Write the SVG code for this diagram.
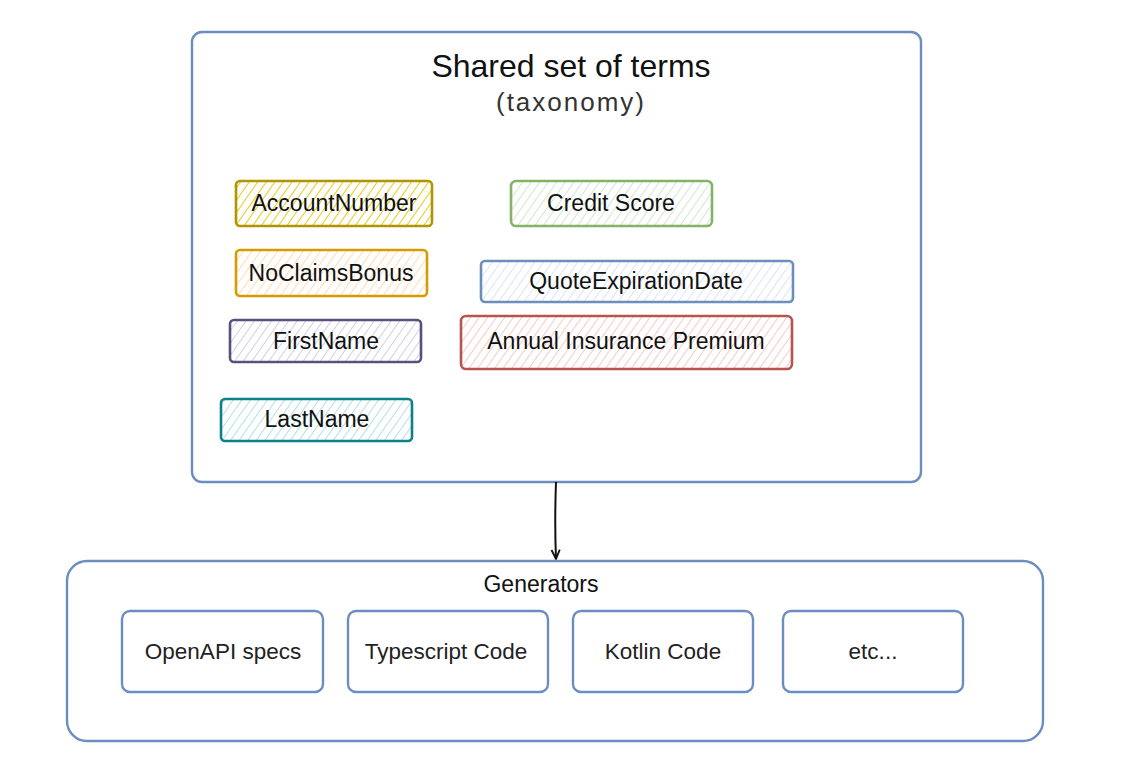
<svg xmlns="http://www.w3.org/2000/svg" width="1133" height="762" viewBox="0 0 1133 762">
<defs>
<style>
text{font-family:"Liberation Sans","DejaVu Sans",sans-serif;fill:#111;text-anchor:middle;dominant-baseline:central}
.lbl{font-size:23px}
.gen{font-size:22.5px;fill:#222}
.blue{fill:none;stroke:#6c8ebf;stroke-width:2.4}
.term{stroke-width:2.6}
</style>
<pattern id="hY" width="7" height="7" patternUnits="userSpaceOnUse" patternTransform="rotate(35)"><line x1="0" y1="0" x2="0" y2="7" stroke="#e3c800" stroke-width="1.8"/></pattern>
<pattern id="hO" width="7" height="7" patternUnits="userSpaceOnUse" patternTransform="rotate(35)"><line x1="0" y1="0" x2="0" y2="7" stroke="#ffd6a8" stroke-width="1.7"/></pattern>
<pattern id="hP" width="7" height="7" patternUnits="userSpaceOnUse" patternTransform="rotate(35)"><line x1="0" y1="0" x2="0" y2="7" stroke="#cbc7e0" stroke-width="1.7"/></pattern>
<pattern id="hT" width="7" height="7" patternUnits="userSpaceOnUse" patternTransform="rotate(35)"><line x1="0" y1="0" x2="0" y2="7" stroke="#a4dce0" stroke-width="1.7"/></pattern>
<pattern id="hG" width="7" height="7" patternUnits="userSpaceOnUse" patternTransform="rotate(35)"><line x1="0" y1="0" x2="0" y2="7" stroke="#c9e4c3" stroke-width="1.7"/></pattern>
<pattern id="hB" width="7" height="7" patternUnits="userSpaceOnUse" patternTransform="rotate(35)"><line x1="0" y1="0" x2="0" y2="7" stroke="#d0e1f7" stroke-width="1.7"/></pattern>
<pattern id="hR" width="7" height="7" patternUnits="userSpaceOnUse" patternTransform="rotate(35)"><line x1="0" y1="0" x2="0" y2="7" stroke="#f5c2be" stroke-width="1.7"/></pattern>
<marker id="arr" viewBox="0 0 12 12" refX="11" refY="6" markerWidth="11" markerHeight="11" orient="auto" markerUnits="userSpaceOnUse"><path d="M1,1.5 L11,6 L1,10.5" fill="none" stroke="#111" stroke-width="2"/></marker>
</defs>
<rect width="1133" height="762" fill="#fff"/>

<g id="taxonomy">
<rect class="blue" x="192" y="32" width="729" height="450" rx="10"/>
<text x="571" y="66" style="font-size:32px">Shared set of terms</text>
<text x="571" y="102" style="font-size:26px;fill:#333;letter-spacing:2px">(taxonomy)</text>
</g>

<g id="account-number">
<rect class="term" x="236" y="181" width="196" height="45" rx="4" fill="url(#hY)" stroke="#b09500"/>
<text class="lbl" x="334" y="203">AccountNumber</text>
</g>
<g id="no-claims-bonus">
<rect class="term" x="236" y="250" width="191" height="46" rx="4" fill="url(#hO)" stroke="#d79b00"/>
<text class="lbl" x="331" y="273">NoClaimsBonus</text>
</g>
<g id="first-name">
<rect class="term" x="230" y="320" width="191" height="42" rx="4" fill="url(#hP)" stroke="#56517e"/>
<text class="lbl" x="326" y="341">FirstName</text>
</g>
<g id="last-name">
<rect class="term" x="221" y="399" width="191" height="42" rx="4" fill="url(#hT)" stroke="#0e8088"/>
<text class="lbl" x="317" y="419">LastName</text>
</g>
<g id="credit-score">
<rect class="term" x="511" y="181" width="201" height="45" rx="5" fill="url(#hG)" stroke="#82b366"/>
<text class="lbl" x="611" y="203">Credit Score</text>
</g>
<g id="quote-expiration-date">
<rect class="term" x="481" y="261" width="312" height="41" rx="4" fill="url(#hB)" stroke="#6c8ebf"/>
<text class="lbl" x="636" y="281">QuoteExpirationDate</text>
</g>
<g id="annual-insurance-premium">
<rect class="term" x="461" y="316" width="331" height="53" rx="5" fill="url(#hR)" stroke="#b85450"/>
<text class="lbl" x="626" y="341">Annual Insurance Premium</text>
</g>

<g id="connectors">
<path d="M556,482 C555,510 555,535 556,559" fill="none" stroke="#111" stroke-width="2" marker-end="url(#arr)"/>
</g>

<g id="generators">
<rect class="blue" x="67" y="561" width="976" height="180" rx="20"/>
<text x="541" y="584" style="font-size:23px">Generators</text>
</g>
<g id="openapi-specs">
<rect class="blue" x="122" y="611" width="201" height="81" rx="8"/>
<text class="gen" x="223" y="651">OpenAPI specs</text>
</g>
<g id="typescript-code">
<rect class="blue" x="348" y="611" width="200" height="81" rx="8"/>
<text class="gen" x="446" y="651">Typescript Code</text>
</g>
<g id="kotlin-code">
<rect class="blue" x="573" y="611" width="180" height="81" rx="8"/>
<text class="gen" x="663" y="651">Kotlin Code</text>
</g>
<g id="etc">
<rect class="blue" x="783" y="611" width="180" height="81" rx="8"/>
<text class="gen" x="873" y="651">etc...</text>
</g>
</svg>
